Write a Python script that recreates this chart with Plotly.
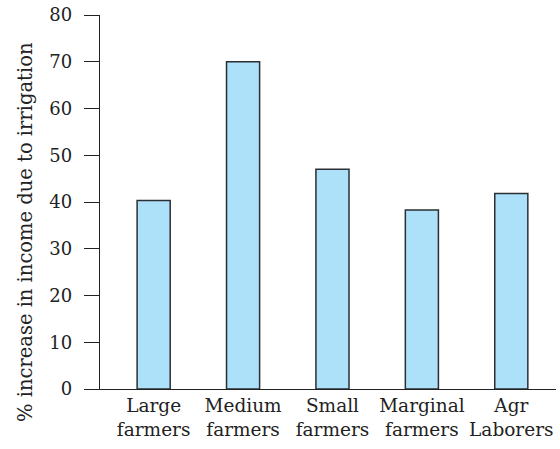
import plotly.graph_objects as go

categories = ["Large<br>farmers", "Medium<br>farmers", "Small<br>farmers", "Marginal<br>farmers", "Agr<br>Laborers"]
values = [40.3, 70.0, 47.0, 38.3, 41.8]
y_ticks = [0, 10, 20, 30, 40, 50, 60, 70, 80]

FONT = "DejaVu Serif"

fig = go.Figure()
fig.add_trace(go.Bar(
    x=list(range(len(categories))),
    y=values,
    width=0.37,
    marker=dict(color="#ADE1F9", line=dict(color="#2b2f33", width=1.5)),
))

fig.update_layout(
    width=560, height=449,
    margin=dict(l=100, r=4, t=15, b=60),
    plot_bgcolor="white", paper_bgcolor="white",
    showlegend=False,
    font=dict(family=FONT, size=18, color="#222"),
    xaxis=dict(
        range=[-0.6, 4.5],
        tickvals=list(range(len(categories))),
        ticktext=categories,
        showline=True, linecolor="#222", linewidth=1.3,
        ticks="", showgrid=False, zeroline=False,
        tickfont=dict(family=FONT, size=18.5, color="#222"),
    ),
    yaxis=dict(
        range=[0, 80],
        tickvals=y_ticks,
        showline=True, linecolor="#222", linewidth=1.3,
        ticks="outside", ticklen=15, tickcolor="#222", tickwidth=1.3,
        ticklabelstandoff=8,
        showgrid=False, zeroline=False,
        tickfont=dict(family=FONT, size=18, color="#222"),
    ),
    annotations=[dict(
        text="% increase in income due to irrigation",
        xref="paper", yref="paper", x=-0.162, y=0.42,
        xanchor="center", yanchor="middle", textangle=-90,
        showarrow=False, font=dict(family=FONT, size=19.5, color="#222"),
    )],
)

fig.write_html("out.html", config={"displayModeBar": False},
               post_script="document.body.style.margin='0';")
